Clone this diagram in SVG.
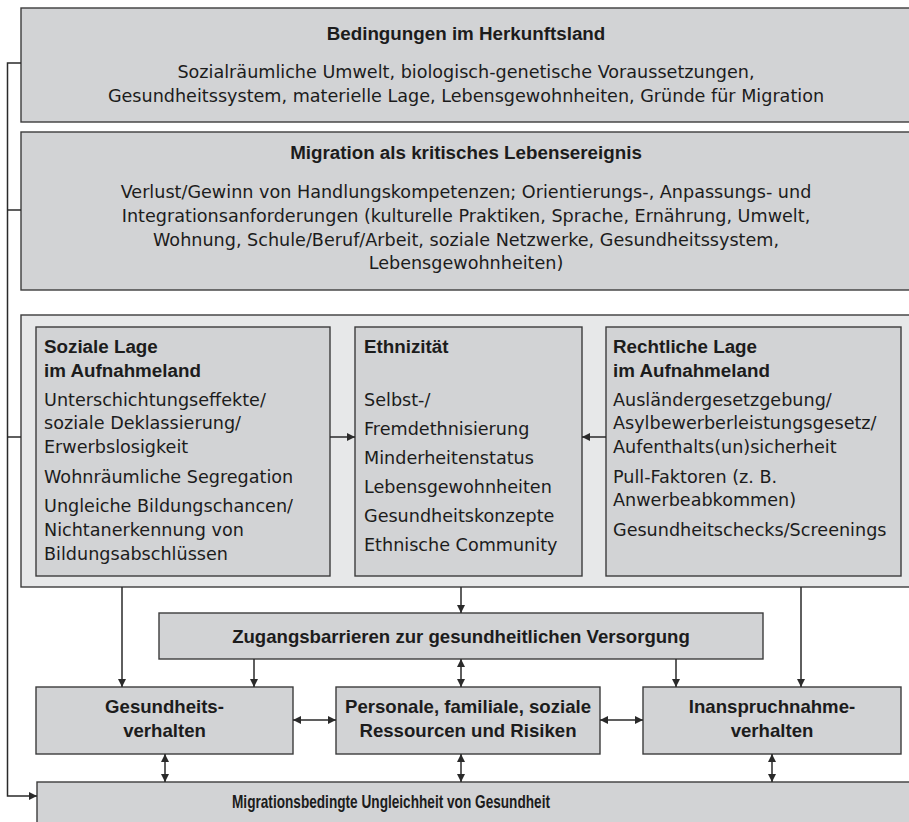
<svg xmlns="http://www.w3.org/2000/svg" width="909" height="822" viewBox="0 0 909 822">
<defs>
<style>
.box{fill:#d2d3d5;stroke:#3c3c3c;stroke-width:1.4}
.outer{fill:#e7e8e9;stroke:#3c3c3c;stroke-width:1.4}
text{font-family:"Liberation Sans",Arial,sans-serif;fill:#1c1c1c}
.t{font-size:18.8px;font-weight:bold}
.b{font-family:"DejaVu Sans","Liberation Sans",sans-serif;font-size:17.6px}
.m{font-size:18.6px;font-weight:bold}
.c{text-anchor:middle}
.ln{stroke:#2a2a2a;stroke-width:1.5;fill:none}
</style>
<marker id="ah" viewBox="0 0 10 10" refX="10" refY="5" markerWidth="8" markerHeight="8" markerUnits="userSpaceOnUse" orient="auto-start-reverse">
<path d="M0,0 L10,5 L0,10 z" fill="#2a2a2a"/>
</marker>
</defs>

<g id="herkunftsland">
<rect class="box" x="21" y="8" width="900" height="114"/>
<text class="t c" x="466" y="40">Bedingungen im Herkunftsland</text>
<text class="b c" x="466" y="78">Sozialräumliche Umwelt, biologisch-genetische Voraussetzungen,</text>
<text class="b c" x="466" y="102">Gesundheitssystem, materielle Lage, Lebensgewohnheiten, Gründe für Migration</text>
</g>

<g id="migration">
<rect class="box" x="21" y="132" width="900" height="158"/>
<text class="t c" x="466" y="159">Migration als kritisches Lebensereignis</text>
<text class="b c" x="466" y="198">Verlust/Gewinn von Handlungskompetenzen; Orientierungs-, Anpassungs- und</text>
<text class="b c" x="466" y="222">Integrationsanforderungen (kulturelle Praktiken, Sprache, Ernährung, Umwelt,</text>
<text class="b c" x="466" y="246">Wohnung, Schule/Beruf/Arbeit, soziale Netzwerke, Gesundheitssystem,</text>
<text class="b c" x="466" y="269">Lebensgewohnheiten)</text>
</g>

<g id="aufnahmeland">
<rect class="outer" x="21" y="315" width="900" height="272"/>
</g>

<g id="soziale-lage">
<rect class="box" x="36" y="327" width="294" height="249"/>
<text class="t" x="44" y="353">Soziale Lage</text>
<text class="t" x="44" y="377">im Aufnahmeland</text>
<text class="b" x="44" y="406">Unterschichtungseffekte/</text>
<text class="b" x="44" y="429">soziale Deklassierung/</text>
<text class="b" x="44" y="453">Erwerbslosigkeit</text>
<text class="b" x="44" y="483">Wohnräumliche Segregation</text>
<text class="b" x="44" y="512">Ungleiche Bildungschancen/</text>
<text class="b" x="44" y="536">Nichtanerkennung von</text>
<text class="b" x="44" y="560">Bildungsabschlüssen</text>
</g>

<g id="ethnizitaet">
<rect class="box" x="355" y="327" width="227" height="249"/>
<text class="t" x="364" y="353">Ethnizität</text>
<text class="b" x="364" y="406">Selbst-/</text>
<text class="b" x="364" y="435">Fremdethnisierung</text>
<text class="b" x="364" y="464">Minderheitenstatus</text>
<text class="b" x="364" y="493">Lebensgewohnheiten</text>
<text class="b" x="364" y="522">Gesundheitskonzepte</text>
<text class="b" x="364" y="551">Ethnische Community</text>
</g>

<g id="rechtliche-lage">
<rect class="box" x="606" y="327" width="295" height="249"/>
<text class="t" x="613" y="353">Rechtliche Lage</text>
<text class="t" x="613" y="377">im Aufnahmeland</text>
<text class="b" x="613" y="406">Ausländergesetzgebung/</text>
<text class="b" x="613" y="429">Asylbewerberleistungsgesetz/</text>
<text class="b" x="613" y="453">Aufenthalts(un)sicherheit</text>
<text class="b" x="613" y="483">Pull-Faktoren (z. B.</text>
<text class="b" x="613" y="506">Anwerbeabkommen)</text>
<text class="b" x="613" y="536">Gesundheitschecks/Screenings</text>
</g>

<g id="zugangsbarrieren">
<rect class="box" x="159" y="613" width="604" height="46"/>
<text class="m c" x="461" y="643">Zugangsbarrieren zur gesundheitlichen Versorgung</text>
</g>

<g id="gesundheitsverhalten">
<rect class="box" x="36" y="687" width="257" height="67"/>
<text class="m c" x="164.5" y="713">Gesundheits-</text>
<text class="m c" x="164.5" y="737">verhalten</text>
</g>

<g id="ressourcen">
<rect class="box" x="336" y="687" width="264" height="67"/>
<text class="m c" x="468" y="713">Personale, familiale, soziale</text>
<text class="m c" x="468" y="737">Ressourcen und Risiken</text>
</g>

<g id="inanspruchnahme">
<rect class="box" x="643" y="687" width="258" height="67"/>
<text class="m c" x="772" y="713">Inanspruchnahme-</text>
<text class="m c" x="772" y="737">verhalten</text>
</g>

<g id="ungleichheit">
<rect class="box" x="37" y="782" width="884" height="50"/>
<text class="m" x="232" y="808" textLength="318" lengthAdjust="spacingAndGlyphs">Migrationsbedingte Ungleichheit von Gesundheit</text>
</g>

<g id="connectors">
<path class="ln" d="M21,63 H7.5 V796 H37" marker-end="url(#ah)"/>
<path class="ln" d="M7.5,210 H21"/>
<path class="ln" d="M7.5,437 H21"/>
<path class="ln" d="M330,437 H355" marker-end="url(#ah)"/>
<path class="ln" d="M606,437 H582" marker-end="url(#ah)"/>
<path class="ln" d="M122,587 V687" marker-end="url(#ah)"/>
<path class="ln" d="M461,587 V613" marker-end="url(#ah)"/>
<path class="ln" d="M801,587 V687" marker-end="url(#ah)"/>
<path class="ln" d="M254,659 V687" marker-end="url(#ah)"/>
<path class="ln" d="M676,659 V687" marker-end="url(#ah)"/>
<path class="ln" d="M461,659 V687" marker-start="url(#ah)" marker-end="url(#ah)"/>
<path class="ln" d="M293,720 H336" marker-start="url(#ah)" marker-end="url(#ah)"/>
<path class="ln" d="M600,720 H643" marker-start="url(#ah)" marker-end="url(#ah)"/>
<path class="ln" d="M165,754 V782" marker-start="url(#ah)" marker-end="url(#ah)"/>
<path class="ln" d="M461,754 V782" marker-start="url(#ah)" marker-end="url(#ah)"/>
<path class="ln" d="M772,754 V782" marker-start="url(#ah)" marker-end="url(#ah)"/>
</g>
</svg>
